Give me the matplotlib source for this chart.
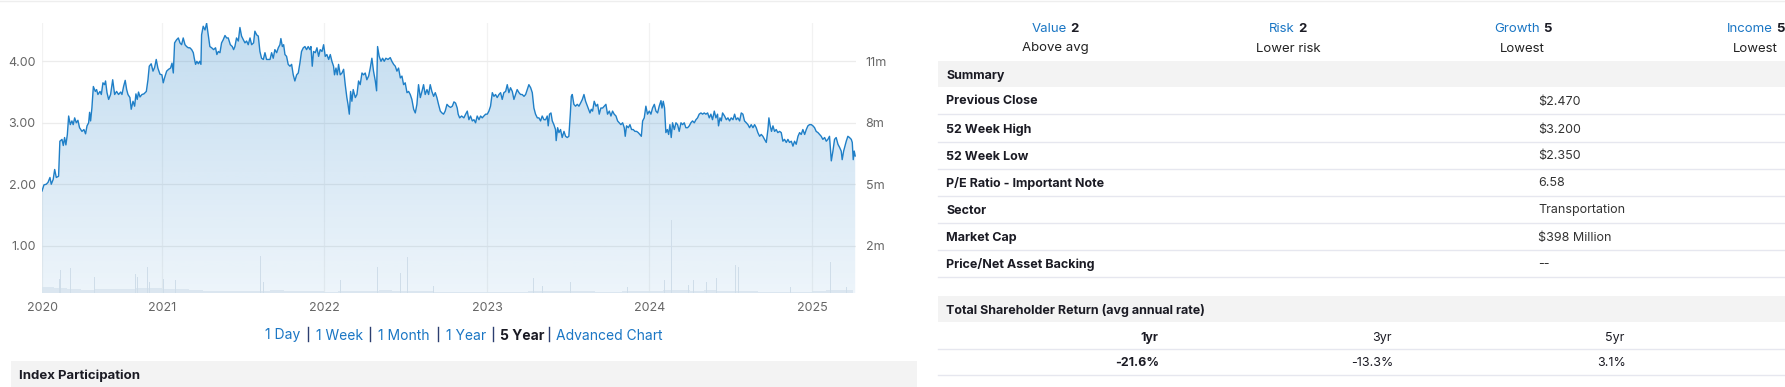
import numpy as np
import pandas as pd
import matplotlib
matplotlib.use('Agg')
import matplotlib.pyplot as plt
from matplotlib.patches import Rectangle
from matplotlib.lines import Line2D

plt.rcParams['font.family'] = ['Inter', 'DejaVu Sans']

# ---- price history (decimal year, close) ----
years = [
    2020.262, 2020.274, 2020.288, 2020.299, 2020.311, 2020.319, 2020.331, 2020.340, 2020.350, 2020.364,
    2020.372, 2020.385, 2020.393, 2020.401, 2020.409, 2020.418, 2020.426, 2020.436, 2020.446, 2020.454,
    2020.463, 2020.473, 2020.483, 2020.493, 2020.508, 2020.520, 2020.530, 2020.539, 2020.549, 2020.555,
    2020.561, 2020.569, 2020.578, 2020.590, 2020.598, 2020.606, 2020.619, 2020.627, 2020.637, 2020.647,
    2020.653, 2020.662, 2020.672, 2020.684, 2020.697, 2020.709, 2020.721, 2020.733, 2020.746, 2020.754,
    2020.764, 2020.774, 2020.783, 2020.791, 2020.803, 2020.811, 2020.822, 2020.832, 2020.840, 2020.848,
    2020.856, 2020.865, 2020.877, 2020.889, 2020.904, 2020.914, 2020.922, 2020.934, 2020.945, 2020.955,
    2020.965, 2020.975, 2020.988, 2021.000, 2021.008, 2021.016, 2021.029, 2021.041, 2021.053, 2021.062,
    2021.070, 2021.078,
    2021.090, 2021.101, 2021.111, 2021.121, 2021.131, 2021.142, 2021.152, 2021.162, 2021.172, 2021.183,
    2021.193, 2021.199, 2021.207, 2021.215, 2021.224, 2021.232, 2021.240, 2021.244, 2021.254, 2021.265,
    2021.275, 2021.285, 2021.295, 2021.306, 2021.318, 2021.330, 2021.338, 2021.347, 2021.357, 2021.367,
    2021.377, 2021.388, 2021.398, 2021.408, 2021.421, 2021.433, 2021.441, 2021.449, 2021.459, 2021.470,
    2021.480, 2021.490, 2021.501, 2021.511, 2021.521, 2021.531, 2021.542, 2021.552, 2021.564, 2021.572,
    2021.583, 2021.593, 2021.603, 2021.613, 2021.624, 2021.634, 2021.644, 2021.654, 2021.665, 2021.675,
    2021.685, 2021.695, 2021.706, 2021.716, 2021.726, 2021.732, 2021.741, 2021.749, 2021.757, 2021.767,
    2021.777, 2021.788, 2021.798, 2021.808, 2021.818, 2021.829, 2021.839, 2021.849, 2021.859, 2021.870,
    2021.880, 2021.890, 2021.900, 2021.911, 2021.917, 2021.925,
    2021.933, 2021.944, 2021.954, 2021.964, 2021.974, 2021.985, 2021.995, 2022.005, 2022.015, 2022.026,
    2022.036, 2022.046, 2022.056, 2022.062, 2022.071, 2022.079, 2022.087, 2022.097, 2022.108, 2022.118,
    2022.128, 2022.138, 2022.145, 2022.153, 2022.161, 2022.169, 2022.177, 2022.190, 2022.200, 2022.210,
    2022.220, 2022.231, 2022.241, 2022.251, 2022.261, 2022.272, 2022.282, 2022.292, 2022.302, 2022.313,
    2022.321, 2022.327, 2022.337, 2022.348, 2022.358, 2022.368, 2022.378, 2022.391, 2022.405, 2022.415,
    2022.426, 2022.436, 2022.446, 2022.456, 2022.467, 2022.477, 2022.487, 2022.497, 2022.508, 2022.518,
    2022.528, 2022.538, 2022.549, 2022.559, 2022.569, 2022.579, 2022.590, 2022.600, 2022.610, 2022.620,
    2022.631, 2022.641, 2022.651, 2022.661, 2022.672, 2022.682, 2022.692, 2022.702, 2022.713, 2022.723,
    2022.733, 2022.743, 2022.754, 2022.764,
    2022.776, 2022.787, 2022.797, 2022.807, 2022.817, 2022.823, 2022.832, 2022.844, 2022.858, 2022.869,
    2022.879, 2022.889, 2022.899, 2022.910, 2022.920, 2022.930, 2022.940, 2022.951, 2022.961, 2022.971,
    2022.981, 2022.992, 2023.002, 2023.012, 2023.022, 2023.033, 2023.043, 2023.053, 2023.063, 2023.074,
    2023.084, 2023.094, 2023.104, 2023.115, 2023.125, 2023.135, 2023.145, 2023.156, 2023.166, 2023.176,
    2023.186, 2023.197, 2023.207, 2023.217, 2023.228, 2023.238, 2023.248, 2023.258, 2023.269, 2023.279,
    2023.289, 2023.299, 2023.310, 2023.320, 2023.330, 2023.340, 2023.351, 2023.361, 2023.371, 2023.377,
    2023.385, 2023.394, 2023.402, 2023.412, 2023.422, 2023.426, 2023.435, 2023.443, 2023.453, 2023.463,
    2023.474, 2023.484, 2023.494, 2023.504, 2023.513, 2023.519, 2023.525, 2023.535, 2023.545, 2023.556,
    2023.566, 2023.576, 2023.587, 2023.597, 2023.607,
    2023.625, 2023.634, 2023.642, 2023.650, 2023.660, 2023.671, 2023.681, 2023.691, 2023.701, 2023.712,
    2023.722, 2023.732, 2023.742, 2023.753, 2023.763, 2023.773, 2023.783, 2023.794, 2023.804, 2023.814,
    2023.824, 2023.835, 2023.845, 2023.851, 2023.859, 2023.870, 2023.880, 2023.890, 2023.900, 2023.911,
    2023.921, 2023.931, 2023.941, 2023.950, 2023.958, 2023.968, 2023.978, 2023.988, 2023.999, 2024.009,
    2024.019, 2024.030, 2024.040, 2024.050, 2024.060, 2024.071, 2024.077, 2024.085, 2024.093, 2024.101,
    2024.110, 2024.118, 2024.126, 2024.134, 2024.142, 2024.153, 2024.163, 2024.173, 2024.183, 2024.194,
    2024.204, 2024.214, 2024.224, 2024.235, 2024.245, 2024.255, 2024.265, 2024.276, 2024.286, 2024.296,
    2024.306, 2024.317, 2024.327, 2024.337, 2024.347, 2024.358, 2024.368, 2024.378, 2024.388, 2024.399,
    2024.409, 2024.419, 2024.425, 2024.434, 2024.442, 2024.450,
    2024.462, 2024.473, 2024.483, 2024.493, 2024.503, 2024.514, 2024.524, 2024.534, 2024.544, 2024.555,
    2024.565, 2024.575, 2024.585, 2024.596, 2024.606, 2024.616, 2024.626, 2024.637, 2024.647, 2024.657,
    2024.667, 2024.678, 2024.688, 2024.698, 2024.708, 2024.719, 2024.729, 2024.735, 2024.743, 2024.751,
    2024.760, 2024.770, 2024.780, 2024.790, 2024.801, 2024.811, 2024.821, 2024.831, 2024.842, 2024.852,
    2024.862, 2024.873, 2024.883, 2024.893, 2024.903, 2024.914, 2024.924, 2024.934, 2024.944, 2024.955,
    2024.965, 2024.975, 2024.985, 2024.996, 2025.006, 2025.016, 2025.026, 2025.037, 2025.047, 2025.057,
    2025.067, 2025.078, 2025.088, 2025.098, 2025.108, 2025.119, 2025.129, 2025.139, 2025.149, 2025.160,
    2025.170, 2025.180, 2025.186, 2025.195, 2025.203, 2025.211, 2025.221, 2025.231, 2025.242, 2025.248,
    2025.254, 2025.260, 2025.266,
]
prices = [
    1.89, 1.99, 2.00, 2.03, 2.11, 2.00, 2.08, 2.24, 2.11, 2.13,
    2.70, 2.73, 2.63, 2.76, 2.64, 2.81, 3.11, 2.97, 3.03, 2.97,
    3.08, 3.00, 3.04, 2.92, 2.86, 2.89, 2.82, 2.95, 3.00, 3.17,
    3.03, 3.24, 3.59, 3.51, 3.54, 3.46, 3.51, 3.46, 3.65, 3.62,
    3.68, 3.49, 3.38, 3.46, 3.70, 3.46, 3.51, 3.46, 3.50, 3.46,
    3.59, 3.69, 3.54, 3.46, 3.41, 3.22, 3.35, 3.27, 3.47, 3.38,
    3.50, 3.42, 3.46, 3.47, 3.51, 3.70, 3.92, 3.96, 3.84, 3.90,
    4.03, 3.89, 3.79, 3.78, 3.65, 3.73, 3.84, 3.87, 3.89, 3.97,
    3.81, 4.30,
    4.35, 4.38, 4.30, 4.27, 4.38, 4.27, 4.24, 4.22, 4.22, 4.19,
    4.14, 4.05, 3.95, 4.00, 3.96, 4.00, 3.95, 4.43, 4.57, 4.51,
    4.62, 4.43, 4.24, 4.22, 4.19, 4.22, 4.11, 4.16, 4.14, 4.30,
    4.35, 4.42, 4.38, 4.38, 4.27, 4.24, 4.19, 4.24, 4.38, 4.33,
    4.55, 4.41, 4.35, 4.30, 4.33, 4.27, 4.38, 4.27, 4.30, 4.49,
    4.43, 4.41, 4.16, 4.05, 4.03, 4.14, 4.03, 4.03, 4.03, 4.14,
    4.05, 4.19, 4.14, 4.22, 4.27, 4.37, 4.24, 4.27, 4.11, 4.08,
    3.95, 3.92, 3.95, 3.78, 3.68, 3.78, 3.81, 3.97, 4.16, 4.22,
    4.24, 4.19, 4.24, 4.19, 4.24, 3.92,
    4.16, 4.14, 4.22, 4.08, 4.19, 4.16, 4.27, 4.08, 4.11, 4.03,
    4.11, 4.00, 3.92, 3.78, 3.89, 3.78, 3.95, 3.78, 3.81, 3.87,
    3.62, 3.41, 3.30, 3.14, 3.51, 3.35, 3.54, 3.41, 3.46, 3.68,
    3.62, 3.81, 3.78, 3.81, 3.70, 3.76, 3.89, 4.05, 3.84, 3.68,
    3.52, 4.24, 4.08, 4.00, 4.05, 4.00, 4.05, 4.03, 4.06, 4.00,
    3.95, 3.92, 3.84, 3.89, 3.73, 3.76, 3.62, 3.65, 3.49, 3.51,
    3.46, 3.38, 3.22, 3.16, 3.30, 3.62, 3.41, 3.51, 3.62, 3.46,
    3.54, 3.46, 3.62, 3.51, 3.43, 3.49, 3.41, 3.30, 3.19, 3.16,
    3.14, 3.19, 3.30, 3.27,
    3.25, 3.27, 3.34, 3.32, 3.24, 3.14, 3.08, 3.11, 3.08, 3.14,
    3.19, 3.05, 3.11, 3.03, 3.05, 3.00, 3.11, 3.05, 3.11, 3.08,
    3.11, 3.14, 3.14, 3.19, 3.27, 3.49, 3.43, 3.46, 3.41, 3.46,
    3.49, 3.38, 3.49, 3.51, 3.62, 3.49, 3.57, 3.51, 3.38, 3.46,
    3.54, 3.49, 3.46, 3.46, 3.43, 3.46, 3.54, 3.62, 3.57, 3.49,
    3.24, 3.14, 3.08, 3.08, 3.03, 3.11, 3.05, 3.05, 3.11, 2.95,
    3.14, 3.16, 3.03, 2.97, 2.89, 2.71, 2.92, 2.84, 2.89, 2.76,
    2.86, 2.78, 2.76, 2.78, 3.14, 3.43, 3.46, 3.30, 3.27, 3.30,
    3.27, 3.32, 3.38, 3.46, 3.35,
    3.22, 3.16, 3.22, 3.19, 3.35, 3.27, 3.30, 3.14, 3.24, 3.24,
    3.27, 3.30, 3.14, 3.19, 3.11, 3.19, 3.14, 3.11, 3.03, 3.00,
    2.97, 3.00, 2.92, 2.78, 2.95, 2.92, 2.97, 2.89, 2.89, 2.86,
    2.86, 2.84, 2.81, 2.78, 3.03, 3.08, 3.27, 3.14, 3.19, 3.14,
    3.24, 3.30, 3.19, 3.16, 3.27, 3.36, 3.24, 3.35, 3.24, 2.84,
    2.89, 2.81, 2.97, 2.76, 3.00, 2.89, 3.00, 2.97, 2.86, 3.00,
    2.97, 3.00, 2.92, 2.92, 2.95, 3.00, 3.03, 3.00, 3.05, 3.08,
    3.14, 3.16, 3.14, 3.16, 3.14, 3.16, 3.08, 3.14, 3.05, 3.19,
    3.08, 3.14, 2.95, 3.08, 3.03, 3.16,
    3.11, 3.05, 3.08, 3.03, 3.08, 3.05, 3.14, 3.05, 3.08, 3.03,
    3.16, 3.14, 3.03, 3.00, 2.97, 2.92, 2.97, 2.92, 2.97, 2.92,
    2.84, 2.78, 2.81, 2.78, 2.73, 2.68, 2.89, 3.08, 2.95, 2.86,
    2.95, 2.86, 2.89, 2.84, 2.86, 2.84, 2.70, 2.73, 2.68, 2.73,
    2.68, 2.70, 2.62, 2.70, 2.65, 2.78, 2.84, 2.81, 2.89, 2.81,
    2.89, 2.95, 2.97, 2.97, 2.95, 2.92, 2.86, 2.84, 2.81, 2.78,
    2.73, 2.76, 2.70, 2.73, 2.78, 2.38, 2.54, 2.73, 2.76, 2.65,
    2.60, 2.54, 2.40, 2.54, 2.62, 2.70, 2.78, 2.76, 2.73, 2.68,
    2.40, 2.54, 2.46,
]
assert len(years) == len(prices)

# ---- volume (millions) ----
vol_months = pd.period_range('2020-04', '2025-03', freq='M')
vol_base = [0.30, 0.25, 0.22, 0.18, 0.20, 0.20, 0.22, 0.28, 0.25,
            0.20, 0.20, 0.15, 0.12, 0.12, 0.10, 0.10, 0.12, 0.15, 0.12, 0.10, 0.10,
            0.08, 0.10, 0.12, 0.10, 0.15, 0.12, 0.12, 0.10, 0.08, 0.08, 0.06, 0.06,
            0.06, 0.06, 0.08, 0.12, 0.10, 0.12, 0.12, 0.10, 0.08, 0.08, 0.10, 0.12,
            0.12, 0.15, 0.14, 0.12, 0.14, 0.12, 0.10, 0.12, 0.08, 0.08, 0.08, 0.08,
            0.12, 0.18, 0.16]
spike_years = [2020.368, 2020.374, 2020.436, 2020.583, 2020.674, 2020.838, 2020.852, 2020.912,
               2020.922, 2021.008, 2021.025, 2021.084, 2021.607, 2021.624, 2022.100, 2022.327,
               2022.469, 2022.512, 2022.670, 2023.285, 2023.340, 2023.486, 2023.515, 2023.597,
               2023.864, 2024.091, 2024.134, 2024.239, 2024.270, 2024.352, 2024.414, 2024.528,
               2024.547, 2024.869, 2025.080, 2025.115, 2025.172, 2025.213]
spike_vol = [0.68, 1.13, 1.24, 0.81, 0.60, 0.92, 0.81, 1.26, 0.56, 0.69, 0.65, 0.65, 1.82,
             0.56, 0.65, 1.26, 0.97, 1.77, 0.35, 0.73, 0.35, 0.68, 0.56, 1.50, 0.32, 0.65,
             3.60, 0.40, 0.65, 0.53, 0.76, 1.40, 1.26, 0.32, 0.29, 1.53, 0.73, 0.29]

year_ticks = [2021, 2022, 2023, 2024, 2025]
price_ticks = [1, 2, 3, 4]
vol_ticks = [2, 5, 8, 11]

ratings = [('Value', '2', 'Above avg'), ('Risk', '2', 'Lower risk'),
           ('Growth', '5', 'Lowest'), ('Income', '5', 'Lowest')]
summary_rows = [('Previous Close', '$2.470'), ('52 Week High', '$3.200'),
                ('52 Week Low', '$2.350'), ('P/E Ratio - Important Note', '6.58'),
                ('Sector', 'Transportation'), ('Market Cap', '$398 Million'),
                ('Price/Net Asset Backing', '--')]
tsr_periods = ['1yr', '3yr', '5yr']
tsr_values = ['-21.6%', '-13.3%', '3.1%']
ranges = ['1 Day', '1 Week', '1 Month', '1 Year', '5 Year', 'Advanced Chart']

# ---- figure ----
W, H = 1785, 387
fig = plt.figure(figsize=(W / 100, H / 100), dpi=100)


def fx(px):
    return px / W


def fy(py):
    return 1 - py / H


LINE = '#1f7fc7'
BLUE = '#1a76c4'
GREY = '#666666'
DARK = '#1b1b24'
DY = 1.5  # text nudge down (px)

ax = fig.add_axes([fx(42), fy(293.3), fx(856) - fx(42), fy(22.7) - fy(293.3)])
x0, x1 = 2020.262, 2025.271
y0, y1 = 0.226, 4.628
ax.set_xlim(x0, x1)
ax.set_ylim(y0, y1)

# gradient area under the line
grad = np.zeros((256, 1, 4))
grad[..., :3] = matplotlib.colors.to_rgb(LINE)
grad[..., 3] = np.linspace(0.08, 0.27, 256)[:, None]
im = ax.imshow(grad, extent=[x0, x1, y0, y1], origin='lower', aspect='auto', zorder=1)
poly = ax.fill_between(years, prices, y0, color='none', lw=0)
im.set_clip_path(poly.get_paths()[0], transform=ax.transData)
ax.plot(years, prices, color=LINE, lw=1.0, zorder=3)

ax.set_yticks(price_ticks)
ax.set_yticklabels([f'{v:.2f}' for v in price_ticks])
ax.set_xticks([x0] + year_ticks)
ax.set_xticklabels(['2020'] + [str(y) for y in year_ticks])
ax.grid(True, axis='y', color='#ececec', lw=0.9, zorder=0)
ax.grid(True, axis='x', color='#f2f2f2', lw=0.9, zorder=0)
ax.set_axisbelow(True)
for s in ax.spines.values():
    s.set_visible(False)
ax.tick_params(axis='y', length=0, pad=4.5, labelsize=9, labelcolor=GREY)
ax.tick_params(axis='x', length=0, pad=6, labelsize=9, labelcolor=GREY)

ax2 = ax.twinx()
vb0 = -0.32
ax2.set_ylim(vb0, 12.88)
mpos = vol_months.year + (vol_months.month - 0.5) / 12
ax2.bar(mpos, vol_base, width=1 / 12, bottom=vb0, color='#d9e5ef', lw=0, alpha=0.9)
ax2.bar(spike_years, spike_vol, width=0.005, bottom=vb0, color='#cfdde9', lw=0)
ax2.set_yticks(vol_ticks)
ax2.set_yticklabels([f'{v}m' for v in vol_ticks])
ax2.tick_params(axis='y', length=0, pad=7, labelsize=9, labelcolor=GREY)
for s in ax2.spines.values():
    s.set_visible(False)

# range selector
range_x = [265, 316, 378, 446, 500, 556]
sep_x = [308, 370, 438, 493, 549]
for lab, x in zip(ranges, range_x):
    bold = lab == '5 Year'
    fig.text(fx(x), fy(334 + DY), lab, fontsize=10, va='center', ha='left',
             color=DARK if bold else BLUE, fontweight='bold' if bold else 'normal')
for x in sep_x:
    fig.add_artist(Line2D([fx(x), fx(x)], [fy(327), fy(341)], color='#2c3e70', lw=1))

# index participation band
fig.add_artist(Rectangle((fx(11), 0), fx(917) - fx(11), fy(361), color='#f3f3f3', lw=0))
fig.text(fx(19), fy(374 + DY), 'Index Participation', fontsize=9.5, fontweight='bold',
         color=DARK, va='center')

# top border
fig.add_artist(Line2D([0, 1], [fy(0.6), fy(0.6)], color='#eeeeee', lw=1))

# ratings
lab_right = [1067, 1295, 1540, 1773]
num_left = [1070, 1298, 1543, 1776]
sub_center = [1055, 1288, 1522, 1755]
for (name, num, sub), xr, xn, xc in zip(ratings, lab_right, num_left, sub_center):
    fig.text(fx(xr), fy(27 + DY), name, fontsize=9.5, color=BLUE, ha='right', va='center')
    fig.text(fx(xn), fy(27 + DY), num, fontsize=9.5, color=DARK, ha='left', va='center',
             fontweight='bold')
    fig.text(fx(xc), fy(47 + DY), sub, fontsize=9.5, color='#222222', ha='center', va='center')

# summary table
fig.add_artist(Rectangle((fx(938), fy(87)), 1 - fx(938), fy(61) - fy(87), color='#f3f3f3', lw=0))
fig.text(fx(946), fy(74 + DY), 'Summary', fontsize=9, fontweight='bold', color=DARK, va='center')
row_y = [100, 128, 155, 182, 209, 236, 263]
for (lab, val), y in zip(summary_rows, row_y):
    fig.text(fx(946), fy(y + DY), lab, fontsize=9, fontweight='bold', color=DARK, va='center')
    fig.text(fx(1538), fy(y + DY), val, fontsize=9, color='#333333', va='center')
    fig.add_artist(Line2D([fx(938), 1], [fy(y + 14), fy(y + 14)], color='#e6e7ef', lw=1))

fig.add_artist(Rectangle((fx(938), fy(322)), 1 - fx(938), fy(296) - fy(322), color='#f3f3f3', lw=0))
fig.text(fx(946), fy(309 + DY), 'Total Shareholder Return (avg annual rate)', fontsize=9,
         fontweight='bold', color=DARK, va='center')
per_x = [1149, 1382, 1615]
val_x = [1137, 1372, 1612]
for i, (p, v, xp, xv) in enumerate(zip(tsr_periods, tsr_values, per_x, val_x)):
    w = 'bold' if i == 0 else 'normal'
    fig.text(fx(xp), fy(336 + DY), p, fontsize=9, fontweight=w, color=DARK, ha='center', va='center')
    fig.text(fx(xv), fy(362 + DY), v, fontsize=9, fontweight=w, color=DARK, ha='center', va='center')
for y in [349, 375]:
    fig.add_artist(Line2D([fx(938), 1], [fy(y), fy(y)], color='#e6e7ef', lw=1))

fig.savefig('out.png', dpi=100, facecolor='white')
